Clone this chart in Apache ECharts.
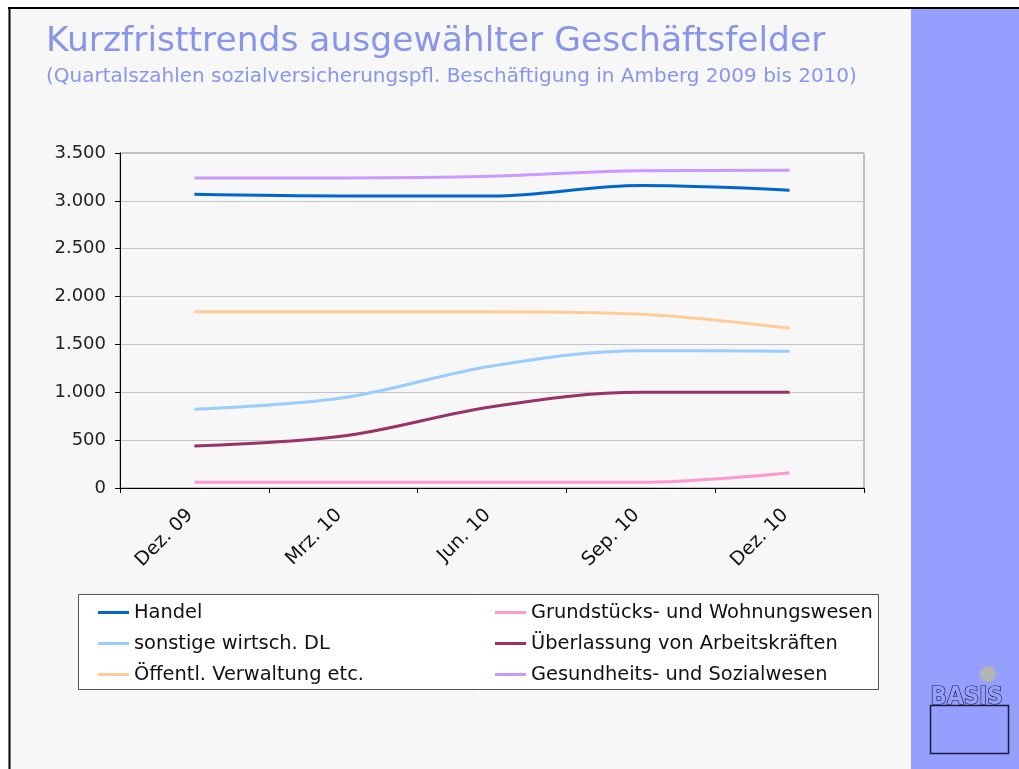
<!DOCTYPE html>
<html>
<head>
<meta charset="utf-8">
<script src="https://cdn.jsdelivr.net/npm/echarts@6/dist/echarts.min.js"></script>
<style>
html,body{margin:0;padding:0;background:#fff;}
#chart{width:1019px;height:769px;}
</style>
</head>
<body>
<div id="chart"></div>
<script>
// ---- data ----
const categories = ['Dez. 09', 'Mrz. 10', 'Jun. 10', 'Sep. 10', 'Dez. 10'];
const seriesNames = ['Handel', 'sonstige wirtsch. DL', 'Öffentl. Verwaltung etc.', 'Grundstücks- und Wohnungswesen', 'Überlassung von Arbeitskräften', 'Gesundheits- und Sozialwesen'];
const handel = [3068, 3051, 3051, 3160, 3112];
const sonstige = [822, 943, 1275, 1435, 1428];
const oeffentl = [1842, 1842, 1842, 1815, 1668];
const grundstuecke = [59, 59, 59, 59, 160];
const ueberlassung = [439, 543, 850, 1000, 1000];
const gesundheit = [3240, 3240, 3258, 3315, 3320];
const yTicks = [0, 500, 1000, 1500, 2000, 2500, 3000, 3500];

const colors = ['#0066cc', '#99ccff', '#ffcc99', '#ff99cc', '#993366', '#cc99ff'];
const values = [handel, sonstige, oeffentl, grundstuecke, ueberlassung, gesundheit];

function fmt(v) {
  if (v >= 1000) return Math.floor(v / 1000) + '.' + String(v % 1000).padStart(3, '0');
  return String(v);
}

const chart = echarts.init(document.getElementById('chart'), null, {renderer: 'canvas'});
const FONT = '"DejaVu Sans", "Liberation Sans", Arial, sans-serif';

const legendCommon = {
  orient: 'vertical',
  icon: 'rect',
  itemWidth: 31,
  itemHeight: 3,
  itemGap: 12,
  textStyle: {fontFamily: FONT, fontSize: 19.4, color: '#111'},
  selectedMode: false
};

chart.setOption({
  backgroundColor: '#f7f7f7',
  animation: false,
  color: colors,
  textStyle: {fontFamily: FONT},
  grid: {left: 120, top: 153, right: 155, bottom: 281, show: true, borderColor: '#8a8a8a', borderWidth: 1, backgroundColor: 'transparent'},
  xAxis: {
    type: 'category',
    data: categories,
    boundaryGap: true,
    axisLine: {lineStyle: {color: '#000', width: 1}},
    axisTick: {show: true, length: 5, lineStyle: {color: '#000'}},
    axisLabel: {rotate: 45, fontSize: 19, color: '#111', margin: 20, padding: [0, 6, 0, 0], fontFamily: FONT},
    splitLine: {show: false}
  },
  yAxis: {
    type: 'value',
    min: yTicks[0],
    max: yTicks[yTicks.length - 1],
    interval: 500,
    axisLine: {show: true, lineStyle: {color: '#000', width: 1}},
    axisTick: {show: true, length: 5, lineStyle: {color: '#000'}},
    axisLabel: {fontSize: 18, color: '#222', margin: 14, formatter: fmt, fontFamily: FONT},
    splitLine: {lineStyle: {color: '#c4c4c4', width: 1}}
  },
  legend: [
    Object.assign({left: 93, top: 598, data: seriesNames.slice(0, 3)}, legendCommon),
    Object.assign({left: 490, top: 598, data: seriesNames.slice(3, 6)}, legendCommon)
  ],
  series: seriesNames.map((n, i) => ({
    name: n,
    type: 'line',
    data: values[i],
    smooth: 0.35,
    showSymbol: false,
    symbol: 'none',
    lineStyle: {width: 3, color: colors[i]},
    itemStyle: {color: colors[i]},
    z: 3
  })),
  graphic: [
    // white outer strips
    {type: 'rect', shape: {x: 0, y: 0, width: 1019, height: 7}, style: {fill: '#fff'}, z: 0},
    {type: 'rect', shape: {x: 0, y: 0, width: 8, height: 769}, style: {fill: '#fff'}, z: 0},
    // right panel
    {type: 'rect', shape: {x: 911, y: 8, width: 108, height: 761}, style: {fill: '#959ffe'}, z: 0},
    // frame lines
    {type: 'line', shape: {x1: 8, y1: 8, x2: 1019, y2: 8}, style: {stroke: '#000', lineWidth: 2}, z: 1},
    {type: 'line', shape: {x1: 9.5, y1: 8, x2: 9.5, y2: 769}, style: {stroke: '#000', lineWidth: 2}, z: 1},
    // legend box
    {type: 'rect', shape: {x: 78.5, y: 594.5, width: 800, height: 95}, style: {fill: '#fff', stroke: '#555', lineWidth: 1}, z: -1},
    // titles
    {type: 'text', left: 46, top: 25, style: {text: 'Kurzfristtrends ausgewählter Geschäftsfelder', font: '34.5px ' + FONT, fill: '#8796ec'}, z: 2},
    {type: 'text', left: 46, top: 67, style: {text: '(Quartalszahlen sozialversicherungspfl. Beschäftigung in Amberg 2009 bis 2010)', font: '20px ' + FONT, fill: '#8796ec'}, z: 2},
    // logo
    {type: 'circle', shape: {cx: 988, cy: 674, r: 8}, style: {fill: '#b4b4b4'}, z: 2},
    {type: 'rect', shape: {x: 930.5, y: 705.5, width: 78, height: 48}, style: {fill: 'none', stroke: '#1a1a3a', lineWidth: 1.5}, z: 2},
    {type: 'text', left: 930, top: 685, style: {text: 'BASIS', font: 'bold 24px "Liberation Sans Narrow", "DejaVu Sans Condensed", sans-serif', fill: '#959ffe', stroke: '#1a1a3a', lineWidth: 1.2}, z: 3}
  ]
});
</script>
</body>
</html>
